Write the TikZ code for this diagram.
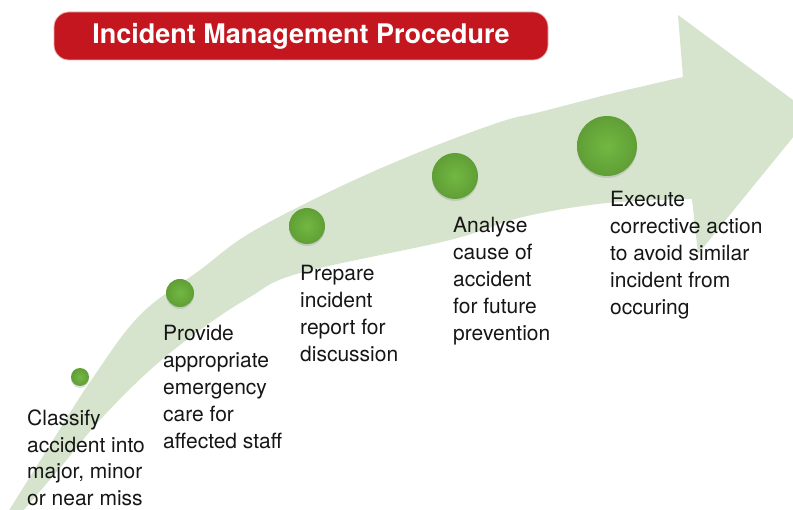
\documentclass[tikz,border=0pt]{standalone}
\usepackage{fontspec}
\setmainfont{TeX Gyre Heros}
\usepackage{tikz}
\usetikzlibrary{shadows}
\usepackage{xcolor}
\definecolor{TitleRed}{RGB}{196, 22, 30}
\definecolor{BandGreen}{RGB}{214, 228, 205}
\definecolor{DotGreen}{RGB}{104, 172, 58}
\definecolor{DotLite}{RGB}{114, 184, 66}
\definecolor{InkBlack}{RGB}{22, 22, 22}
\tikzset{%
  title_block/.style={%
    rectangle,%
    rounded corners=15pt,%
    fill=TitleRed,%
    draw=TitleRed!35,%
    line width=0.8pt,%
    minimum width=494pt,%
    minimum height=48pt,%
    text=white,%
    font={\fontsize{27}{32}\selectfont\bfseries},%
  },
  stage_dot/.style={%
    circle,%
    inner sep=0pt,%
    inner color=DotLite,%
    outer color=DotGreen!92!black,%
    drop shadow={shadow xshift=0pt, shadow yshift=-2pt, opacity=0.25},%
  },
  stage_text/.style={%
    anchor=base west,% last line's baseline
    align=left,%
    inner sep=0pt,%
    text=InkBlack,%
    font={\fontsize{21}{27}\selectfont},%
  },
  band/.style={%
    fill=BandGreen,%
  },
}
\begin{document}
\begin{tikzpicture}[x=1pt, y=-1pt]

    \useasboundingbox (0, 0) rectangle (793, 510);

    % the curved arrow behind the steps
    \begin{scope}
      \clip (0, 0) rectangle (793, 510);
      \path [band]
        plot [smooth, tension=0.6] coordinates {%
          (8, 512) (50, 445) (90, 382) (140, 315) (200, 270) (250, 233)
          (333, 190) (417, 153) (500, 122) (540, 112) (610, 94) (683, 77)}
        --
        (678, 15)
        --
        (812, 114)
        --
        (698, 254)
        --
        plot [smooth, tension=0.6] coordinates {%
          (692, 199) (607, 203) (523, 217) (450, 240) (300, 273) (250, 297)
          (200, 330) (150, 370) (100, 420) (60, 468) (22, 512)}
        --
        cycle;
    \end{scope}

    \node [title_block] (Title) at (301, 36) {%
      Incident Management Procedure%
    };

    \node [stage_dot, minimum size=18pt] (Dot1) at (80, 377) {};
    \node [stage_dot, minimum size=28pt] (Dot2) at (180, 293) {};
    \node [stage_dot, minimum size=36pt] (Dot3) at (307, 226) {};
    \node [stage_dot, minimum size=46pt] (Dot4) at (455, 176) {};
    \node [stage_dot, minimum size=60pt] (Dot5) at (607, 146) {};

    \node [stage_text] (Classify) at (27, 506) {%
      Classify\\accident into\\major, minor\\or near miss%
    };
    \node [stage_text] (Provide) at (163, 449) {%
      Provide\\appropriate\\emergency\\care for\\affected staff%
    };
    \node [stage_text] (Prepare) at (300, 362) {%
      Prepare\\incident\\report for\\discussion%
    };
    \node [stage_text] (Analyse) at (453, 341) {%
      Analyse\\cause of\\accident\\for future\\prevention%
    };
    \node [stage_text] (Execute) at (610, 315) {%
      Execute\\corrective action\\to avoid similar\\incident from\\occuring%
    };
  \end{tikzpicture}
\end{document}
